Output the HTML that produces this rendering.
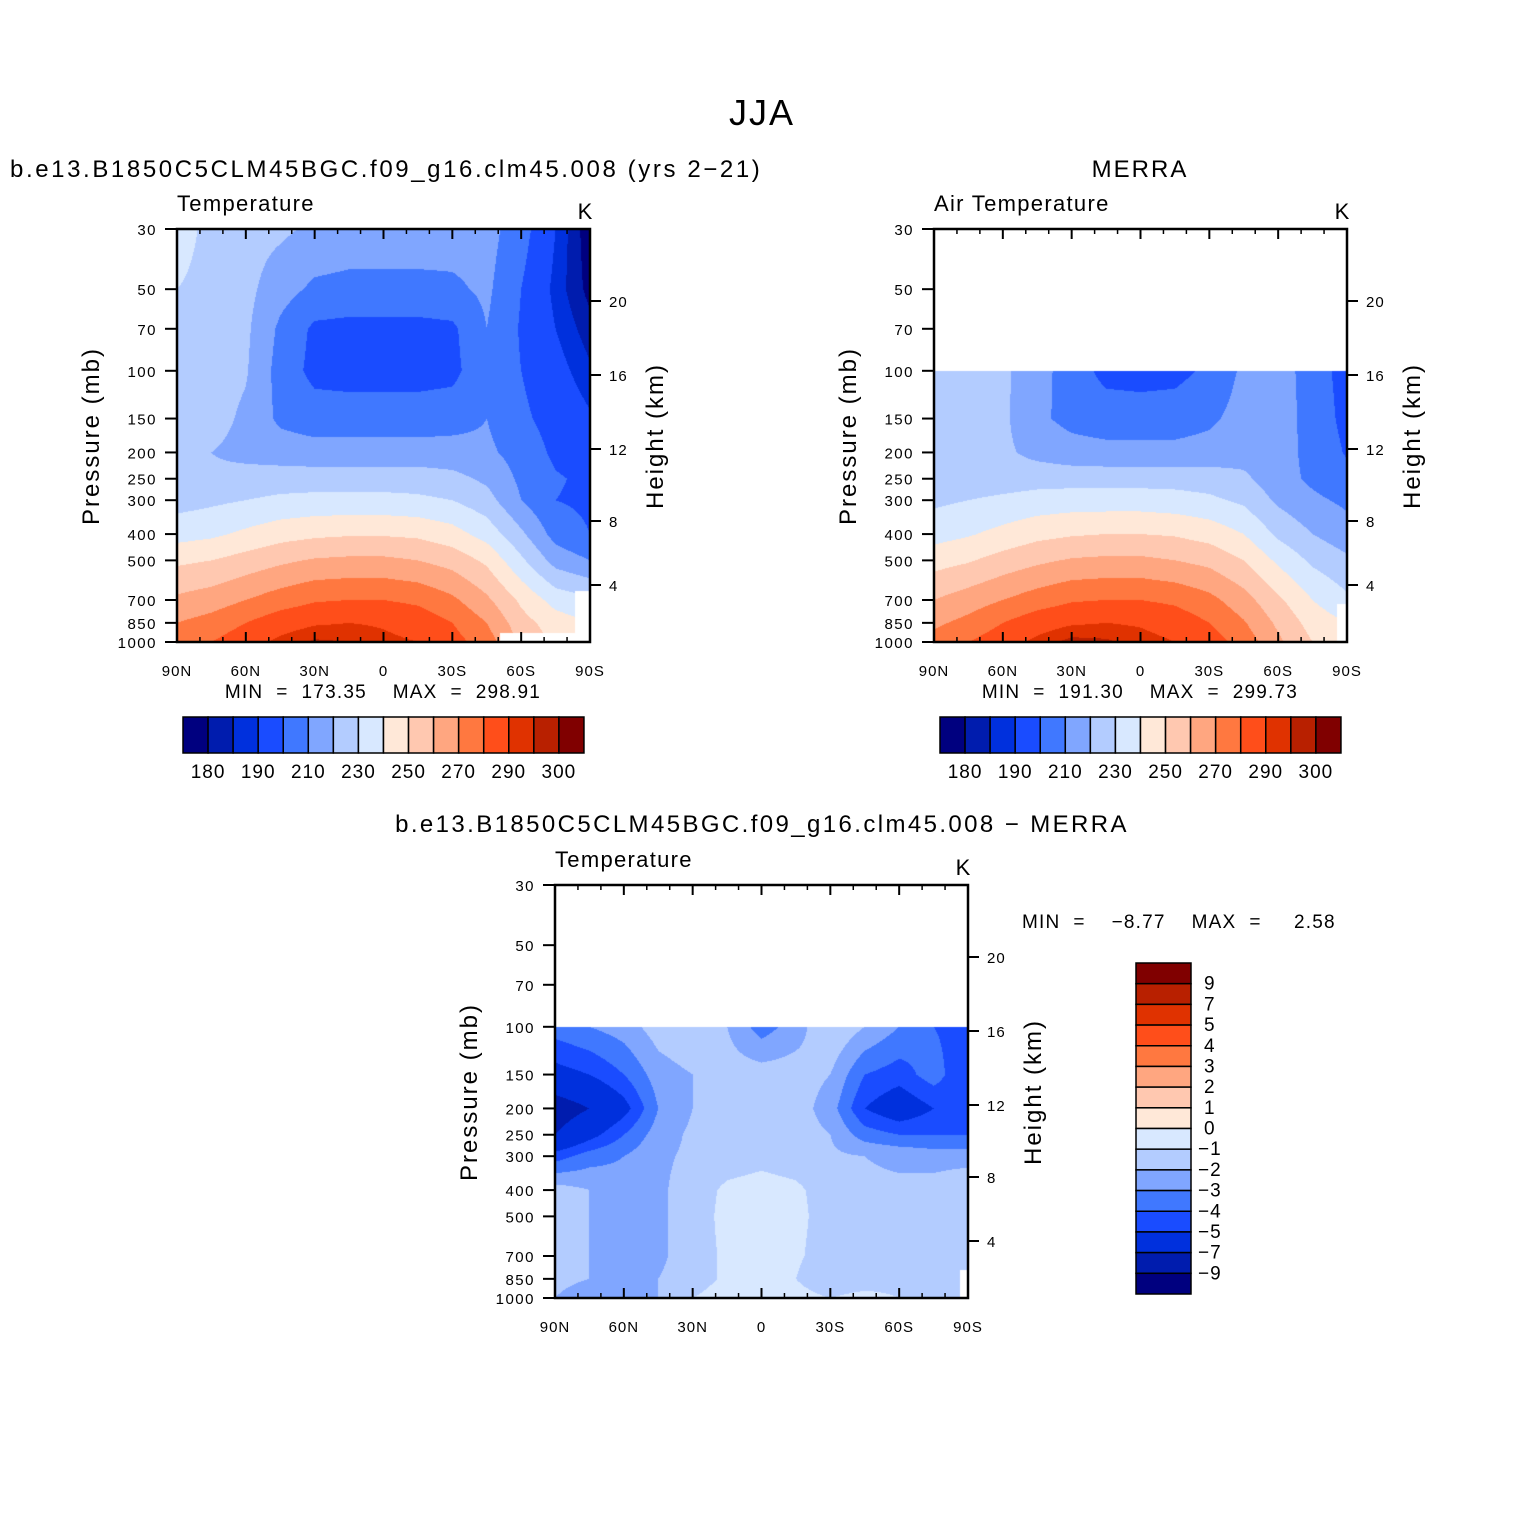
<!DOCTYPE html>
<html><head><meta charset="utf-8">
<style>
html,body{margin:0;padding:0;background:#fff;}
#wrap{position:relative;width:1524px;height:1524px;overflow:hidden;font-family:"Liberation Sans",sans-serif;}
canvas{position:absolute;}
svg{position:absolute;left:0;top:0;}
text{white-space:pre;}
</style></head>
<body>
<div id="wrap">
<canvas id="c1" width="413" height="413" style="left:177px;top:229px"></canvas>
<canvas id="c2" width="413" height="413" style="left:934px;top:229px"></canvas>
<canvas id="c3" width="413" height="413" style="left:555px;top:885px"></canvas>
<svg id="s" width="1524" height="1524"></svg>
</div>
<script>
const lats=[90,75,60,45,30,15,0,-15,-30,-45,-60,-75,-90];
const plevs=[30,50,70,100,150,200,250,300,400,500,700,850,1000];
const N=null;
const modelT=[
[236,226,224,222,218,216,216,216,215,214,204,190,176],
[230,226,223,214,208,207,207,207,208,212,200,188,178],
[228,225,222,208,198,197,197,197,198,210,199,190,182],
[227,225,221,206,197,196,196,196,197,208,200,193,186],
[226,224,218,208,205,205,205,205,206,210,202,196,191],
[224,220,217,215,214,214,214,214,214,212,206,198,194],
[222,222,224,225,225,225,225,225,223,218,208,201,198],
[226,228,230,232,233,233,233,232,230,224,210,200,198],
[236,238,242,246,248,249,249,248,244,236,222,206,200],
[248,250,254,258,261,262,262,260,256,248,232,216,210],
[262,265,270,275,279,280,280,278,272,262,248,236,232],
[270,274,280,286,289,290,289,286,280,270,254,245,240],
[276,280,286,292,296,295,292,290,284,275,258,248,242]];
const merraT=[
[N,N,N,N,N,N,N,N,N,N,N,N,N],
[N,N,N,N,N,N,N,N,N,N,N,N,N],
[N,N,N,N,N,N,N,N,N,N,N,N,N],
[228,226,222,214,205,197,196,197,202,212,215,205,196],
[227,226,222,212,207,205,205,205,208,214,215,206,197],
[226,224,222,217,214,213,213,213,214,216,214,207,199],
[224,224,225,226,226,226,226,226,225,222,214,208,203],
[228,230,232,234,235,235,235,234,232,228,218,212,208],
[236,239,243,247,249,250,250,249,246,240,228,220,214],
[246,249,254,258,261,262,262,260,257,250,238,228,222],
[260,265,270,275,279,280,280,278,273,264,252,240,232],
[268,273,280,286,289,290,289,286,280,271,258,246,240],
[274,280,286,292,297,296,293,290,285,276,262,250,244]];
const diffT=[
[N,N,N,N,N,N,N,N,N,N,N,N,N],
[N,N,N,N,N,N,N,N,N,N,N,N,N],
[N,N,N,N,N,N,N,N,N,N,N,N,N],
[-3.5,-3,-2.5,-1.5,-1,-2,-3.5,-2.5,-1,-2,-3,-4,-4.5],
[-5.5,-5,-4,-2.5,-2,-1.5,-1.5,-1.5,-2,-4,-4.5,-3.5,-5],
[-8,-7,-5.5,-3,-2,-1.5,-1.5,-1.5,-2.5,-5,-6,-5,-4.5],
[-7,-5.5,-4,-2.5,-1.8,-1.5,-1.5,-1.5,-2,-3.5,-4,-4,-4],
[-4.5,-3.5,-3,-2.2,-1.8,-1.5,-1.3,-1.5,-1.8,-2,-2.2,-2.5,-2.5],
[-1.5,-2,-2.5,-2.2,-1.5,-0.8,-0.6,-0.8,-1.5,-1.8,-1.8,-1.5,-1],
[-1.5,-2,-2.5,-2.2,-1.5,-0.7,-0.5,-0.7,-1.5,-1.8,-1.8,-1.5,-1.2],
[-1.5,-2,-2.5,-2.2,-1.5,-0.8,-0.6,-0.8,-1.6,-1.8,-1.8,-1.5,-1],
[-1.5,-2,-2.5,-2,-1.5,-0.8,-0.8,-1,-2,-1.8,-1.5,-1.5,-1],
[-2,-3,-3,-2,-1,-0.5,-0.5,-0.5,-1,-0.5,-1,-1.5,-1.5]];
const tLevels=[180,185,190,200,210,220,230,240,250,260,270,280,290,295,300];
const tLabels=["180","190","210","230","250","270","290","300"];
const dLevels=[-9,-7,-5,-4,-3,-2,-1,0,1,2,3,4,5,7,9];
const dLabels=["9","7","5","4","3","2","1","0","−1","−2","−3","−4","−5","−7","−9"];
const colors=["#00007f","#001cae","#0030dd","#1a4cff","#4078ff","#80a6ff","#b3ccff","#d8e8ff","#ffe8d8","#ffc8b0","#ffa680","#ff7840","#ff4e1a","#e03200","#b82000","#800000"];
const xTickLabels=["90N","60N","30N","0","30S","60S","90S"];
const pTicks=[30,50,70,100,150,200,250,300,400,500,700,850,1000];
const hTicksTop=[20,16,12,8,4];
const hTickY=[72,146,220,292,356];

const L30=Math.log(30),L1000=Math.log(1000);
function yOfP(p){return (Math.log(p)-L30)/(L1000-L30)*413;}
function xOfLat(l){return (90-l)/180*413;}
function hex(c){return [parseInt(c.substr(1,2),16),parseInt(c.substr(3,2),16),parseInt(c.substr(5,2),16)];}
const rgb=colors.map(hex);
function colorIdx(v,lev){let i=0;while(i<lev.length&&v>=lev[i])i++;return i;}
const lp=plevs.map(p=>Math.log(p));
function draw(id,grid,lev,mask){
  const cv=document.getElementById(id),ctx=cv.getContext('2d');
  const img=ctx.createImageData(413,413);
  for(let py=0;py<413;py++){
    const lpv=L30+(py+0.5)/413*(L1000-L30);
    let j=0;while(j<lp.length-2&&lpv>lp[j+1])j++;
    const fy=Math.min(1,Math.max(0,(lpv-lp[j])/(lp[j+1]-lp[j])));
    for(let px=0;px<413;px++){
      const lat=90-(px+0.5)/413*180;
      let i=Math.min(11,Math.floor((90-lat)/15));
      const fx=((90-lat)-i*15)/15;
      const a=grid[j][i],b=grid[j][i+1],c=grid[j+1][i],d=grid[j+1][i+1];
      const o=(py*413+px)*4;
      if(a===null||b===null||c===null||d===null){img.data[o]=255;img.data[o+1]=255;img.data[o+2]=255;img.data[o+3]=255;continue;}
      const v=(a*(1-fx)+b*fx)*(1-fy)+(c*(1-fx)+d*fx)*fy;
      const col=rgb[colorIdx(v,lev)];
      img.data[o]=col[0];img.data[o+1]=col[1];img.data[o+2]=col[2];img.data[o+3]=255;
    }
  }
  ctx.putImageData(img,0,0);
  ctx.fillStyle='#fff';
  for(const m of mask){ctx.fillRect(m[0],m[1],m[2],m[3]);}
}
draw('c1',modelT,tLevels,[[323,404,75,9],[398,362,15,51]]);
draw('c2',merraT,tLevels,[[403,375,10,38]]);
draw('c3',diffT,dLevels,[[405,385,8,28]]);

const S=document.getElementById('s');
const NS='http://www.w3.org/2000/svg';
function el(tag,attrs,txt){const e=document.createElementNS(NS,tag);for(const k in attrs)e.setAttribute(k,attrs[k]);if(txt!==undefined)e.textContent=txt;S.appendChild(e);return e;}
function txt(x,y,s,size,anchor,name,rot,ls){
  const a={x:x,y:y,'font-size':size,'text-anchor':anchor||'start','font-family':'Liberation Sans, sans-serif',fill:'#000'};
  if(ls)a['letter-spacing']=ls;
  if(rot)a.transform='rotate(-90 '+x+' '+y+')';
  const t=el('text',a,s);
  
  
  return t;
}
txt(762,125,'JJA',36,'middle','figure-title',false,2);

function panel(X,Y,sub,pref){
  const r=el('rect',{x:X,y:Y,width:413,height:413,fill:'none',stroke:'#000','stroke-width':2.5});
  
  
  txt(X,Y-18,sub,22,'start',pref+'-variable-label',false,1.3);
  txt(X+408,Y-10,'K',22,'middle',pref+'-units-label');
  for(let k=0;k<xTickLabels.length;k++){
    const x=X+k*413/6;
    el('line',{x1:x,y1:Y+413,x2:x,y2:Y+403,stroke:'#000','stroke-width':2});
    el('line',{x1:x,y1:Y,x2:x,y2:Y+10,stroke:'#000','stroke-width':2});
    txt(x,Y+447,xTickLabels[k],15,'middle',pref+'-x-tick-label',false,1);
  }
  for(let l=80;l>-90;l-=10){
    if(l%30===0)continue;
    const x=X+xOfLat(l);
    el('line',{x1:x,y1:Y+413,x2:x,y2:Y+408,stroke:'#000','stroke-width':1.5});
    el('line',{x1:x,y1:Y,x2:x,y2:Y+5,stroke:'#000','stroke-width':1.5});
  }
  for(const p of pTicks){
    const y=Y+yOfP(p);
    el('line',{x1:X-12,y1:y,x2:X,y2:y,stroke:'#000','stroke-width':2});
    txt(X-20,y+6,String(p),15,'end',pref+'-y-tick-label',false,1.5);
  }
  for(let k=0;k<hTicksTop.length;k++){
    const y=Y+hTickY[k];
    el('line',{x1:X+413,y1:y,x2:X+424,y2:y,stroke:'#000','stroke-width':2});
    txt(X+432,y+6,String(hTicksTop[k]),15,'start',pref+'-height-tick-label',false,1);
  }
  txt(X-78,Y+207,'Pressure (mb)',24,'middle',pref+'-y-axis-title',true,2);
  txt(X+486,Y+207,'Height (km)',24,'middle',pref+'-height-axis-title',true,2);
}
panel(177,229,'Temperature','model');
panel(934,229,'Air Temperature','merra');
panel(555,885,'Temperature','diff');

txt(10,177,'b.e13.B1850C5CLM45BGC.f09_g16.clm45.008 (yrs 2−21)',24,'start','model-panel-title',false,2.6);
txt(1140,177,'MERRA',24,'middle','merra-panel-title',false,2);
txt(762,832,'b.e13.B1850C5CLM45BGC.f09_g16.clm45.008 − MERRA',24,'middle','difference-panel-title',false,2.4);
txt(383,698,'MIN  =  173.35    MAX  =  298.91',19,'middle','model-min-max',false,1.2);
txt(1140,698,'MIN  =  191.30    MAX  =  299.73',19,'middle','merra-min-max',false,1.2);
txt(1022,928,'MIN  =    −8.77    MAX  =     2.58',19,'start','diff-min-max',false,1.2);

function hbar(X,Y,pref){
  for(let k=0;k<16;k++){
    const rr=el('rect',{x:X+k*25.06,y:Y,width:25.06,height:36,fill:colors[k],stroke:'#000','stroke-width':1.5});
    
    
  }
  for(let k=0;k<tLabels.length;k++){
    txt(X+(1+2*k)*25.06,Y+61,tLabels[k],19,'middle',pref+'-colorbar-label',false,1);
  }
}
hbar(183,717,'model');
hbar(940,717,'merra');
const vh=331/16;
for(let k=0;k<16;k++){
  const rr=el('rect',{x:1136,y:963+k*vh,width:55,height:vh,fill:colors[15-k],stroke:'#000','stroke-width':1.5});
  
  
}
for(let k=0;k<dLabels.length;k++){
  const lab=dLabels[k];
  txt(lab.startsWith('−')?1198:1204,963+(k+1)*vh+6,lab,19,'start','diff-colorbar-label',false,1);
}
</script>
</body></html>
